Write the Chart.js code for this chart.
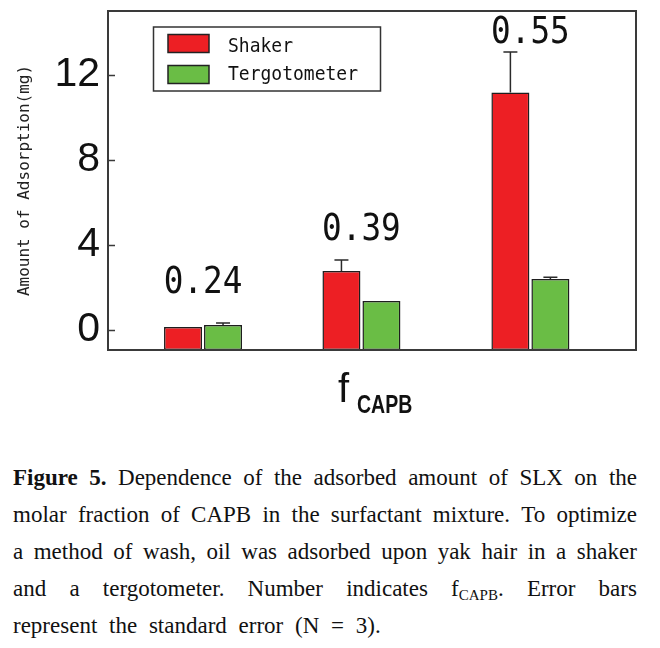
<!DOCTYPE html>
<html lang="en">
<head>
<meta charset="utf-8" />
<title>Figure 5</title>
<style>
  * { margin: 0; padding: 0; }
  body { width: 660px; height: 648px; background: #fff; position: relative; overflow: hidden; }
  .chartBox { position: absolute; left: 0; top: 0; width: 660px; height: 430px; }
  .caption {
    position: absolute; left: 13px; top: 459px; width: 624px;
    font-family: "Liberation Serif", "Times New Roman", serif;
    font-size: 23px; line-height: 37px; color: #111;
  }
  .caption .line { display: flex; justify-content: space-between; white-space: nowrap; }
  .caption .last { white-space: nowrap; word-spacing: 6px; }
  .caption sub { font-size: 15px; vertical-align: -4px; line-height: 0; }
</style>
</head>
<body>
<div class="chartBox"><canvas id="myChart"></canvas></div>

<div class="caption">
  <div class="line"><span><b>Figure</b></span><span><b>5.</b></span><span>Dependence</span><span>of</span><span>the</span><span>adsorbed</span><span>amount</span><span>of</span><span>SLX</span><span>on</span><span>the</span></div>
  <div class="line"><span>molar</span><span>fraction</span><span>of</span><span>CAPB</span><span>in</span><span>the</span><span>surfactant</span><span>mixture.</span><span>To</span><span>optimize</span></div>
  <div class="line"><span>a</span><span>method</span><span>of</span><span>wash,</span><span>oil</span><span>was</span><span>adsorbed</span><span>upon</span><span>yak</span><span>hair</span><span>in</span><span>a</span><span>shaker</span></div>
  <div class="line"><span>and</span><span>a</span><span>tergotometer.</span><span>Number</span><span>indicates</span><span>f<sub>CAPB</sub>.</span><span>Error</span><span>bars</span></div>
  <div class="last">represent the standard error (N = 3).</div>
</div>

<script src="https://cdn.jsdelivr.net/npm/chart.js"></script>
<script>
  // data
  const fCapb = [0.24, 0.39, 0.55];
  const fLabels = ["0.24", "0.39", "0.55"];
  const shaker = [0.14, 2.78, 11.17];
  const shakerErr = [0, 0.51, 1.9];
  const tergo = [0.23, 1.36, 2.4];
  const tergoErr = [0.1, 0, 0.08];
  const yTicks = [0, 4, 8, 12];
  const yMin = -0.94;
  const yMax = 15;

  // gap (px) between the top of each group and its f label
  const labelGap = [30, 20, 9];

  const monoFont = '"DejaVu Sans Mono", monospace';

  // draw text squeezed horizontally (the original uses a narrow Korean font)
  function squeezeText(ctx, text, x, y, sx, align) {
    ctx.save();
    ctx.translate(x, y);
    ctx.scale(sx, 1);
    ctx.textAlign = align;
    ctx.fillText(text, 0, 0);
    ctx.restore();
  }

  const figureDecor = {
    id: "figureDecor",
    afterDatasetsDraw(chart) {
      const {
        ctx,
        chartArea: { left, top, right, bottom },
        scales: { x, y },
      } = chart;
      ctx.save();

      // error bars (upper half only)
      ctx.strokeStyle = "#2a2a2a";
      ctx.lineWidth = 1.5;
      chart.data.datasets.forEach((ds, di) => {
        const meta = chart.getDatasetMeta(di);
        meta.data.forEach((bar, i) => {
          const e = ds.err[i];
          if (!e) return;
          const yTop = y.getPixelForValue(ds.data[i].y + e);
          ctx.beginPath();
          ctx.moveTo(bar.x, bar.y);
          ctx.lineTo(bar.x, yTop);
          ctx.moveTo(bar.x - 7, yTop);
          ctx.lineTo(bar.x + 7, yTop);
          ctx.stroke();
        });
      });

      // plot frame + inward ticks
      ctx.strokeStyle = "#3a3a3a";
      ctx.lineWidth = 2;
      ctx.strokeRect(left, top, right - left, bottom - top);
      ctx.beginPath();
      yTicks.forEach((v) => {
        const py = Math.round(y.getPixelForValue(v)) + 0.5;
        ctx.moveTo(left, py);
        ctx.lineTo(left + 7, py);
      });
      ctx.lineWidth = 1.5;
      ctx.stroke();

      // f labels above each group
      ctx.fillStyle = "#111";
      ctx.font = "38px " + monoFont;
      ctx.textBaseline = "alphabetic";
      fCapb.forEach((f, i) => {
        const hi = Math.max(shaker[i] + shakerErr[i], tergo[i] + tergoErr[i]);
        const py = y.getPixelForValue(hi) - labelGap[i];
        squeezeText(ctx, fLabels[i], x.getPixelForValue(f), py, 0.86, "center");
      });

      // legend box
      ctx.strokeStyle = "#333";
      ctx.lineWidth = 1.5;
      ctx.strokeRect(left + 45.5, top + 16, 227, 64);
      const entries = [
        { label: "Shaker", color: "#ed1f24", sy: 23.5, ty: 41.3 },
        { label: "Tergotometer", color: "#6abd45", sy: 54.5, ty: 68.5 },
      ];
      ctx.font = "20px " + monoFont;
      entries.forEach((en) => {
        ctx.fillStyle = en.color;
        ctx.fillRect(left + 60, top + en.sy, 41, 18);
        ctx.strokeStyle = "#222";
        ctx.strokeRect(left + 60, top + en.sy, 41, 18);
        ctx.fillStyle = "#111";
        squeezeText(ctx, en.label, left + 120, top + en.ty, 0.9, "left");
      });

      // x title: f with subscript CAPB
      const cx = (left + right) / 2;
      ctx.fillStyle = "#111";
      ctx.font = '40px "Liberation Sans", Arial, sans-serif';
      ctx.textAlign = "left";
      ctx.fillText("f", cx - 34, bottom + 52);
      ctx.font = 'bold 25px "Liberation Sans", Arial, sans-serif';
      squeezeText(ctx, "CAPB", cx - 15, bottom + 63, 0.78, "left");

      ctx.restore();
    },
  };

  const data = {
    datasets: [
      {
        label: "Shaker",
        data: fCapb.map((f, i) => ({ x: f, y: shaker[i] })),
        err: shakerErr,
        backgroundColor: "#ed1f24",
      },
      {
        label: "Tergotometer",
        data: fCapb.map((f, i) => ({ x: f, y: tergo[i] })),
        err: tergoErr,
        backgroundColor: "#6abd45",
      },
    ],
  };

  const config = {
    type: "bar",
    data: data,
    options: {
      responsive: true,
      maintainAspectRatio: false,
      animation: false,
      layout: { padding: { top: 11, right: 24, bottom: 80, left: 0 } },
      datasets: {
        bar: {
          base: yMin,
          borderColor: "#1e1e1e",
          borderWidth: 1.5,
          borderSkipped: false,
          categoryPercentage: 0.505,
          barPercentage: 0.95,
        },
      },
      plugins: {
        legend: { display: false },
        tooltip: { enabled: false },
      },
      scales: {
        x: {
          type: "linear",
          display: false,
          offset: false,
          min: 0.15,
          max: 0.65,
          afterBuildTicks: (s) => {
            s.ticks = fCapb.map((v) => ({ value: v }));
          },
        },
        y: {
          min: yMin,
          max: yMax,
          afterBuildTicks: (s) => {
            s.ticks = yTicks.map((v) => ({ value: v }));
          },
          afterFit: (s) => {
            // fixed axis width, and no extra room for the tick label overflow
            s.width = 108;
            s.paddingTop = 0;
            s.paddingBottom = 0;
          },
          grid: { display: false, drawTicks: false },
          border: { display: false },
          ticks: {
            color: "#111",
            padding: 8,
            font: { family: '"Liberation Sans", Arial, sans-serif', size: 41 },
          },
          title: {
            display: true,
            text: "Amount of Adsorption(mg)",
            color: "#222",
            padding: { top: 15, bottom: 0 },
            font: { family: monoFont, size: 16 },
          },
        },
      },
    },
    plugins: [figureDecor],
  };

  const ctx = document.getElementById("myChart");
  const myChart = new Chart(ctx, config);
</script>
</body>
</html>
